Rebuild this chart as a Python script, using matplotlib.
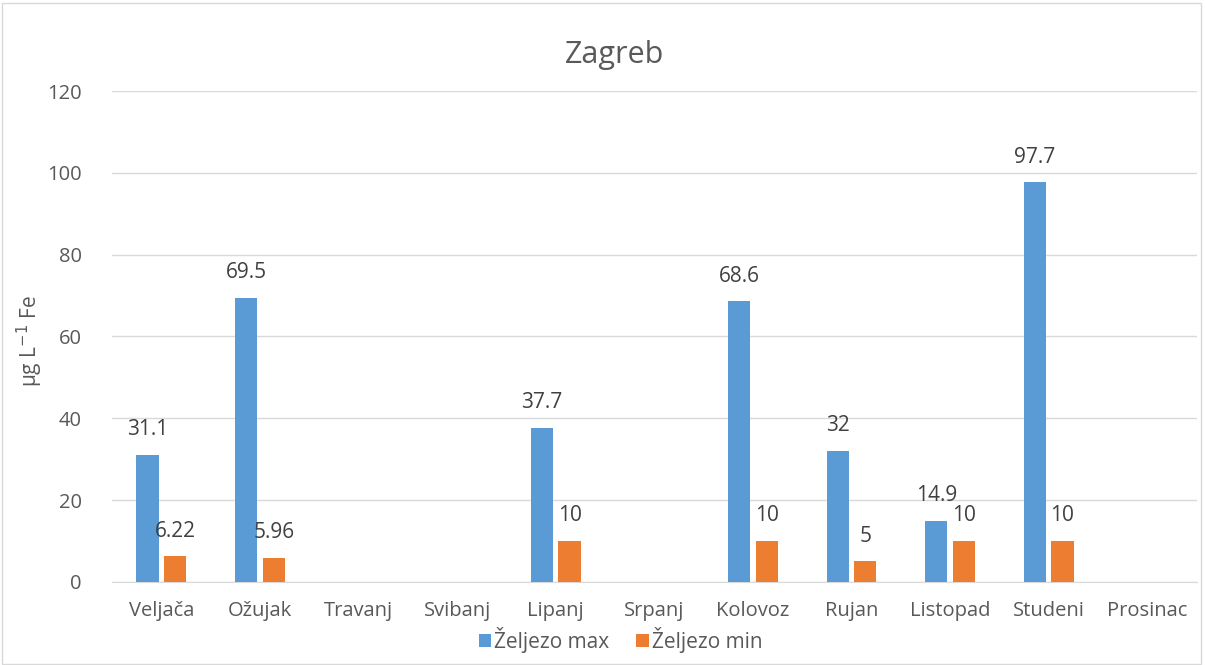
import numpy as np
import matplotlib
matplotlib.use('Agg')
import matplotlib.pyplot as plt
from matplotlib.patches import Rectangle

months = ['Veljača', 'Ožujak', 'Travanj', 'Svibanj', 'Lipanj', 'Srpanj',
          'Kolovoz', 'Rujan', 'Listopad', 'Studeni', 'Prosinac']
fe_max = [31.1, 69.5, None, None, 37.7, None, 68.6, 32, 14.9, 97.7, None]
fe_min = [6.22, 5.96, None, None, 10, None, 10, 5, 10, 10, None]
max_labels = ['31.1', '69.5', '', '', '37.7', '', '68.6', '32', '14.9', '97.7', '']
min_labels = ['6.22', '5.96', '', '', '10', '', '10', '5', '10', '10', '']

plt.rcParams['font.family'] = ['Open Sans', 'DejaVu Sans']
txt = '#595959'

fig = plt.figure(figsize=(12.05, 6.65), dpi=100)
fig.patches.append(Rectangle((0.002, 0.002), 0.995, 0.994, transform=fig.transFigure,
                             fill=False, edgecolor='#d9d9d9', linewidth=1))
ax = fig.add_axes([0.093, 0.125, 0.9, 0.738])

x = np.arange(len(months))
w = 0.225
off = 0.14
hmax = [np.nan if v is None else v for v in fe_max]
hmin = [np.nan if v is None else v for v in fe_min]
b1 = ax.bar(x - off, hmax, w, color='#5b9bd5', label='Željezo max', zorder=3)
b2 = ax.bar(x + off, hmin, w, color='#ed7d31', label='Željezo min', zorder=3)

for xi, v, lab in zip(x, hmax, max_labels):
    if lab:
        ax.text(xi - off, v + 3.6, lab, ha='center', va='bottom', fontsize=15, color='#404040')
for xi, v, lab in zip(x, hmin, min_labels):
    if lab:
        ax.text(xi + off, v + 3.6, lab, ha='center', va='bottom', fontsize=15, color='#404040')

ax.set_xlim(-0.5, len(months) - 0.5)
ax.set_ylim(0, 120)
ax.set_yticks(range(0, 121, 20))
ax.set_xticks(x)
ax.set_xticklabels(months)
ax.tick_params(axis='both', length=0, labelsize=14.5, labelcolor=txt)
ax.tick_params(axis='x', pad=14)
ax.tick_params(axis='y', pad=22)
ax.grid(axis='y', color='#d9d9d9', linewidth=1, zorder=0)
for s in ['top', 'right', 'left']:
    ax.spines[s].set_visible(False)
ax.spines['bottom'].set_color('#d9d9d9')

ax.set_ylabel('µg L$^{-1}$ Fe', fontsize=15, color=txt)
ax.yaxis.set_label_coords(-0.062, 0.49)
fig.text(0.51, 0.917, 'Zagreb', ha='center', va='center', fontsize=22, color=txt)

fig.legend(handles=[b1, b2], loc='center', bbox_to_anchor=(0.515, 0.038), ncol=2,
           frameon=False, fontsize=15, labelcolor=txt, handlelength=0.6, handleheight=0.6,
           handletextpad=0.15, columnspacing=1.3)

fig.savefig('out.png', dpi=100)
